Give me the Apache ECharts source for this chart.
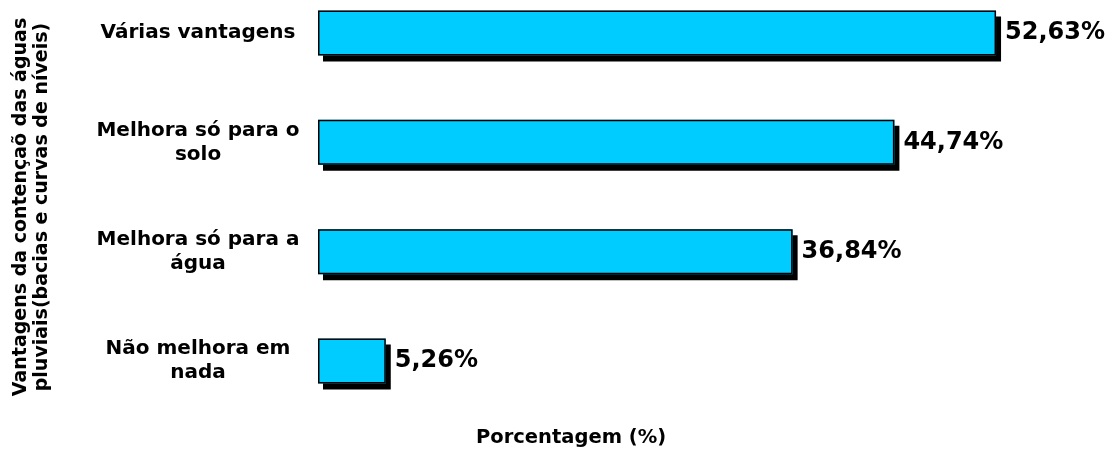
<!DOCTYPE html>
<html>
<head>
<meta charset="utf-8">
<script src="https://cdn.jsdelivr.net/npm/echarts@6/dist/echarts.min.js"></script>
<style>
html,body{margin:0;padding:0;background:#fff;}
#chart{width:1113px;height:453px;}
</style>
</head>
<body>
<div id="chart"></div>
<script>
// categories listed bottom to top
var categories = ['Não melhora em\nnada', 'Melhora só para a\nágua', 'Melhora só para o\nsolo', 'Várias vantagens'];
var values = [5.26, 36.84, 44.74, 52.63];
var valueLabels = ['5,26%', '36,84%', '44,74%', '52,63%'];
var xTitle = 'Porcentagem (%)';
var yTitleLines = ['Vantagens da contençaõ das águas', 'pluviais(bacias e curvas de níveis)'];

var FONT = 'DejaVu Sans';
var chart = echarts.init(document.getElementById('chart'), null, {renderer: 'canvas'});
chart.setOption({
  backgroundColor: '#ffffff',
  animation: false,
  grid: {left: 318, right: 22, top: 33, bottom: 92, containLabel: false},
  xAxis: {
    type: 'value', min: 0, max: 60,
    axisLine: {show: false}, axisTick: {show: false},
    axisLabel: {show: false}, splitLine: {show: false}
  },
  yAxis: {
    type: 'category', data: categories, boundaryGap: false,
    axisLine: {show: false}, axisTick: {show: false}, splitLine: {show: false},
    axisLabel: {
      margin: 120, align: 'center',
      fontFamily: FONT, fontWeight: 'bold', fontSize: 20, lineHeight: 24, color: '#000'
    }
  },
  series: [{
    // filled bars with the black drop shadow
    type: 'bar',
    data: values,
    barWidth: 45,
    silent: true,
    z: 2,
    itemStyle: {
      color: '#00CCFF', borderWidth: 0,
      shadowColor: '#000', shadowBlur: 0, shadowOffsetX: 5, shadowOffsetY: 6
    }
  }, {
    // outline and value labels
    type: 'bar',
    data: values,
    barWidth: 45,
    barGap: '-100%',
    z: 3,
    itemStyle: {color: 'rgba(0,0,0,0)', borderColor: '#000', borderWidth: 1.5},
    label: {
      show: true, position: 'right', distance: 9,
      fontFamily: FONT, fontWeight: 'bold', fontSize: 24, color: '#000',
      formatter: function (p) { return valueLabels[p.dataIndex]; }
    }
  }],
  graphic: [
    {type: 'text', left: 476, top: 428,
     style: {text: xTitle, fontFamily: FONT, fontWeight: 'bold', fontSize: 19.5, fill: '#000'}},
    {type: 'text', x: 21, y: 207, rotation: Math.PI / 2,
     style: {text: yTitleLines[0], fontFamily: FONT, fontWeight: 'bold', fontSize: 19, fill: '#000', align: 'center', verticalAlign: 'middle'}},
    {type: 'text', x: 42, y: 207, rotation: Math.PI / 2,
     style: {text: yTitleLines[1], fontFamily: FONT, fontWeight: 'bold', fontSize: 19, fill: '#000', align: 'center', verticalAlign: 'middle'}}
  ]
});
</script>
</body>
</html>
